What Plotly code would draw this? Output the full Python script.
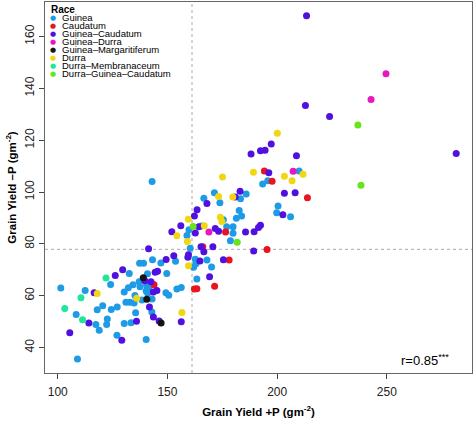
import plotly.graph_objects as go

# ---------------- data ----------------
races = ["Guinea", "Caudatum", "Guinea\u2013Caudatum", "Guinea\u2013Durra",
         "Guinea\u2013Margaritiferum", "Durra", "Durra\u2013Membranaceum",
         "Durra\u2013Guinea\u2013Caudatum"]
race_colors = ["#1E9BE6", "#E8141E", "#5010E0", "#E619BE",
               "#141414", "#F2D60F", "#1EE69B", "#66E61A"]

guinea_x = [206.1, 210.0, 195.7, 193.4, 185.9, 183.3, 182.7, 181.4, 183.8, 200.4,
            199.8, 179.9, 143.0, 171.4, 166.6, 173.9, 175.5, 165.5, 177.0, 159.8,
            158.9, 179.9, 178.7, 160.4, 162.7, 163.0, 161.9, 168.0, 153.7, 170.1,
            163.4, 154.3, 156.3, 137.3, 139.1, 143.2, 147.0, 132.6, 140.9, 149.7,
            137.1, 124.1, 132.2, 130.3, 134.3, 137.5, 140.5, 141.4, 112.5, 101.4,
            108.4, 117.4, 118.9, 118.0, 120.5, 122.6, 122.3, 124.4, 127.1, 131.1,
            132.9, 134.8, 135.2, 138.4, 143.0, 135.5, 109.0, 127.0, 130.3, 133.4,
            140.3, 140.3, 141.0, 149.3, 150.6, 142.9]
guinea_y = [90.5, 108.1, 104.4, 103.1, 99.2, 97.4, 92.9, 89.9, 90.8, 94.6,
            92.0, 86.6, 104.1, 99.7, 97.6, 95.9, 89.3, 86.9, 86.6, 85.5,
            83.2, 84.1, 81.2, 78.3, 74.1, 72.3, 71.0, 73.8, 73.3, 71.1,
            66.5, 62.6, 63.2, 72.5, 72.5, 73.9, 72.6, 68.6, 68.5, 68.6,
            65.4, 64.3, 63.1, 61.4, 64.2, 63.5, 64.0, 62.9, 62.0, 63.0,
            52.8, 48.9, 46.7, 54.6, 56.1, 51.0, 48.9, 54.7, 55.7, 57.5,
            57.5, 57.2, 60.1, 58.4, 58.7, 53.4, 35.6, 44.8, 49.3, 49.6,
            43.1, 61.8, 61.0, 61.2, 60.2, 53.7]

caudatum_x = [213.8, 194.2, 197.7, 176.5, 166.1, 195.4, 178.1, 171.5, 162.3, 163.4, 143.9]
caudatum_y = [97.8, 108.1, 104.2, 84.6, 78.9, 77.8, 73.8, 63.7, 62.6, 62.7, 64.2]

gc_x = [213.4, 212.9, 223.9, 281.6, 208.2, 197.3, 188.1, 192.4, 194.5, 208.8,
        196.2, 183.1, 180.9, 203.3, 202.6, 192.4, 191.5, 168.0, 163.5, 162.3,
        156.1, 164.3, 171.8, 152.0, 162.7, 173.3, 185.6, 189.5, 165.3, 170.7,
        189.3, 152.9, 159.6, 159.3, 166.6, 164.8, 175.5, 169.2, 156.3, 141.4,
        149.4, 129.6, 126.2, 139.7, 144.4, 145.5, 142.5, 145.2, 143.6, 116.6,
        114.2, 105.5, 135.9, 129.2, 141.8, 143.6, 146.2]
gc_y = [168.0, 133.4, 129.1, 114.9, 99.7, 118.5, 114.7, 115.9, 116.1, 114.0,
        107.4, 100.3, 98.1, 99.5, 91.2, 87.2, 86.3, 95.6, 93.2, 90.8,
        87.0, 86.6, 85.9, 84.7, 84.2, 84.9, 84.6, 84.7, 78.9, 78.9,
        77.3, 75.4, 75.8, 74.8, 77.0, 73.4, 73.9, 67.3, 50.0, 78.1,
        74.0, 70.0, 67.8, 65.8, 69.1, 69.4, 65.4, 62.0, 61.4, 61.2,
        49.5, 45.7, 50.2, 42.8, 55.7, 51.8, 50.3]

gd_x = [249.6, 242.8, 207.3, 168.9]
gd_y = [145.6, 135.7, 108.0, 84.6]

gm_x = [139.0, 140.6, 147.1]
gm_y = [66.9, 58.6, 49.5]

durra_x = [206.8, 200.1, 189.2, 211.8, 203.3, 179.8, 175.1, 173.3, 159.5, 174.1,
           174.8, 166.8, 154.3, 159.1, 159.6, 156.6, 118.0, 136.0]
durra_y = [104.4, 122.7, 107.6, 106.9, 106.1, 98.1, 105.8, 98.3, 89.5, 90.3,
           88.6, 87.0, 83.1, 80.9, 71.6, 53.5, 60.9, 59.0]

dm_x = [122.0, 110.6, 103.2, 111.3]
dm_y = [66.8, 59.2, 55.1, 50.7]

dgc_x = [236.8, 238.2, 161.7, 181.8]
dgc_y = [125.9, 102.6, 86.7, 80.6]

series_x = [guinea_x, caudatum_x, gc_x, gd_x, gm_x, durra_x, dm_x, dgc_x]
series_y = [guinea_y, caudatum_y, gc_y, gd_y, gm_y, durra_y, dm_y, dgc_y]

mean_x = 161.2
mean_y = 77.9
r_text = "r=0.85<sup>***</sup>"

x_ticks = [100, 150, 200, 250]
y_ticks = [40, 60, 80, 100, 120, 140, 160]
x_range = [94.2, 288.8]
y_range = [30.2, 173.3]

# ---------------- figure ----------------
FONT = "Liberation Sans, Arial, Helvetica, sans-serif"
fig = go.Figure()

for name, col, xs, ys in zip(races, race_colors, series_x, series_y):
    fig.add_trace(go.Scatter(
        x=xs, y=ys, mode="markers", name=name, showlegend=False,
        marker=dict(color=col, size=7, line=dict(width=0)),
    ))

# mean reference lines
fig.add_shape(type="line", xref="x", yref="paper", x0=mean_x, x1=mean_x, y0=0, y1=1,
              line=dict(color="#AAAAAA", width=1, dash="dot"), layer="below")
fig.add_shape(type="line", xref="paper", yref="y", x0=0, x1=1, y0=mean_y, y1=mean_y,
              line=dict(color="#AAAAAA", width=1, dash="dot"), layer="below")

# legend drawn as annotations (compact, like base-R legend)
PL, PR, PT, PB = 45, 471.7, 2, 373.3
W, H = PR - PL, PB - PT

def px2paper(px, py):
    return (px - PL) / W, (PB - py) / H

ann = []
tx, ty = px2paper(49, 10)
ann.append(dict(x=tx, y=ty, xref="paper", yref="paper", text="<b>Race</b>",
                showarrow=False, xanchor="left", yanchor="middle",
                font=dict(size=10, color="#000", family=FONT)))
row_y = 17.6
for name, col in zip(races, race_colors):
    bx, by = px2paper(53.3, row_y)
    ann.append(dict(x=bx, y=by, xref="paper", yref="paper", text="\u25CF",
                    showarrow=False, xanchor="center", yanchor="middle",
                    font=dict(size=7, color=col, family="DejaVu Sans")))
    lx, ly = px2paper(59.5, row_y)
    ann.append(dict(x=lx, y=ly, xref="paper", yref="paper", text=name,
                    showarrow=False, xanchor="left", yanchor="middle",
                    font=dict(size=9.5, color="#000", family=FONT)))
    row_y += 8.0

rx, ry = px2paper(451, 360)
ann.append(dict(x=rx, y=ry, xref="paper", yref="paper", text=r_text,
                showarrow=False, xanchor="right", yanchor="middle",
                font=dict(size=13, color="#000", family=FONT)))

fig.update_layout(
    width=473, height=421,
    margin=dict(l=PL, r=473 - PR, t=PT, b=421 - PB, pad=0),
    paper_bgcolor="white", plot_bgcolor="white",
    font=dict(family=FONT, color="#000"),
    annotations=ann,
    xaxis=dict(range=x_range, tickvals=x_ticks, showgrid=False, zeroline=False,
               showline=True, mirror=True, linecolor="#666", linewidth=1,
               ticks="outside", ticklen=5, tickcolor="#444", automargin=False,
               ticklabelstandoff=3,
               tickfont=dict(size=12, color="#222"),
               title=dict(text="<b>Grain Yield +P (gm<sup>-2</sup>)</b>",
                          font=dict(size=11.5, color="#000"), standoff=9)),
    yaxis=dict(range=y_range, tickvals=y_ticks, showgrid=False, zeroline=False,
               showline=True, mirror=True, linecolor="#666", linewidth=1,
               ticks="outside", ticklen=5, tickcolor="#444", tickangle=-90,
               automargin=False,
               tickfont=dict(size=12, color="#222"),
               title=dict(text="<b>Grain Yield \u2013P (gm<sup>-2</sup>)</b>",
                          font=dict(size=11.5, color="#000"), standoff=4)),
)

fig.write_html("out.html", config={"displayModeBar": False, "staticPlot": True},
               post_script="document.body.style.margin='0';")
